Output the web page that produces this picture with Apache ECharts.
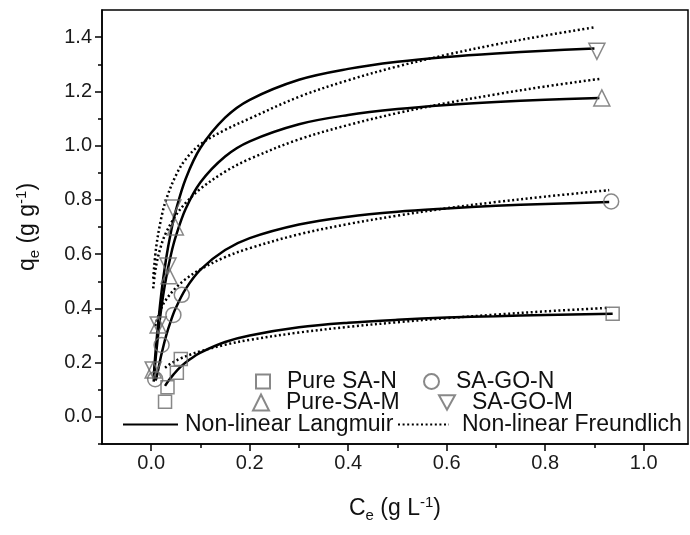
<!DOCTYPE html>
<html>
<head>
<meta charset="utf-8">
<script src="https://cdn.jsdelivr.net/npm/echarts@6/dist/echarts.min.js"></script>
<style>html,body{margin:0;padding:0;background:#fff}#c{width:690px;height:535px}</style>
</head>
<body>
<div id="c"></div>
<script>
// ---- tick labels ----
const xTicks = [0, 0.2, 0.4, 0.6, 0.8, 1.0];
const xMinor = [0.1, 0.3, 0.5, 0.7, 0.9];
const yTicks = [0, 0.2, 0.4, 0.6, 0.8, 1.0, 1.2, 1.4];
const yMinor = [-0.1, 0.1, 0.3, 0.5, 0.7, 0.9, 1.1, 1.3];

// ---- measured points ----
const pureSAN_C = [0.028, 0.033, 0.052, 0.060, 0.937];
const pureSAN_q = [0.056, 0.109, 0.163, 0.213, 0.380];
const sagoN_C = [0.008, 0.021, 0.045, 0.062, 0.934];
const sagoN_q = [0.139, 0.265, 0.376, 0.450, 0.794];
const pureSAM_C = [0.004, 0.014, 0.036, 0.049, 0.915];
const pureSAM_q = [0.173, 0.339, 0.520, 0.700, 1.176];
const sagoM_C = [0.004, 0.014, 0.034, 0.044, 0.905];
const sagoM_q = [0.173, 0.339, 0.556, 0.770, 1.348];

// ---- Langmuir fit curves ----
const langSAN_C = [0.028, 0.035, 0.045, 0.06, 0.08, 0.1, 0.15, 0.2, 0.3, 0.4, 0.5, 0.6, 0.7, 0.8, 0.937];
const langSAN_q = [0.114, 0.133, 0.156, 0.185, 0.214, 0.237, 0.276, 0.300, 0.330, 0.347, 0.358, 0.366, 0.371, 0.376, 0.380];
const langGON_C = [0.008, 0.01, 0.02, 0.03, 0.04, 0.05, 0.07, 0.1, 0.15, 0.2, 0.3, 0.4, 0.5, 0.6, 0.7, 0.8, 0.93];
const langGON_q = [0.135, 0.140, 0.225, 0.298, 0.355, 0.402, 0.472, 0.543, 0.615, 0.659, 0.709, 0.738, 0.756, 0.768, 0.778, 0.785, 0.792];
const langSAM_C = [0.005, 0.01, 0.02, 0.03, 0.04, 0.05, 0.07, 0.1, 0.15, 0.2, 0.3, 0.4, 0.5, 0.6, 0.7, 0.8, 0.91];
const langSAM_q = [0.130, 0.235, 0.395, 0.510, 0.598, 0.666, 0.767, 0.865, 0.960, 1.016, 1.079, 1.113, 1.135, 1.150, 1.161, 1.169, 1.176];
const langGOM_C = [0.005, 0.01, 0.02, 0.03, 0.04, 0.05, 0.07, 0.1, 0.15, 0.2, 0.3, 0.4, 0.5, 0.6, 0.7, 0.8, 0.9];
const langGOM_q = [0.147, 0.266, 0.448, 0.581, 0.682, 0.761, 0.878, 0.992, 1.103, 1.169, 1.243, 1.283, 1.309, 1.327, 1.340, 1.350, 1.358];

// ---- Freundlich fit curves ----
const frSAN_C = [0.028, 0.035, 0.045, 0.06, 0.08, 0.1, 0.15, 0.2, 0.3, 0.4, 0.5, 0.6, 0.7, 0.8, 0.93];
const frSAN_q = [0.181, 0.191, 0.202, 0.216, 0.230, 0.242, 0.266, 0.284, 0.311, 0.332, 0.349, 0.364, 0.377, 0.389, 0.402];
const frGON_C = [0.008, 0.01, 0.02, 0.03, 0.05, 0.07, 0.1, 0.15, 0.2, 0.3, 0.4, 0.5, 0.6, 0.7, 0.8, 0.93];
const frGON_q = [0.335, 0.349, 0.399, 0.432, 0.476, 0.508, 0.544, 0.589, 0.622, 0.673, 0.711, 0.742, 0.769, 0.792, 0.812, 0.836];
const frSAM_C = [0.004, 0.01, 0.02, 0.03, 0.05, 0.07, 0.1, 0.15, 0.2, 0.3, 0.4, 0.5, 0.6, 0.7, 0.8, 0.91];
const frSAM_q = [0.474, 0.558, 0.631, 0.679, 0.743, 0.789, 0.841, 0.904, 0.951, 1.023, 1.076, 1.120, 1.157, 1.189, 1.218, 1.246];
const frGOM_C = [0.004, 0.01, 0.02, 0.03, 0.05, 0.07, 0.1, 0.15, 0.2, 0.3, 0.4, 0.5, 0.6, 0.7, 0.8, 0.9];
const frGOM_q = [0.510, 0.625, 0.730, 0.800, 0.890, 0.950, 1.005, 1.058, 1.100, 1.180, 1.241, 1.292, 1.335, 1.373, 1.406, 1.436];

const zip = (a, b) => a.map((v, i) => [v, b[i]]);
const FONT = 'Liberation Sans, Arial, sans-serif';
const MK = '#6a6a6a';
const DOWN_TRI = 'path://M0,0 L10,0 L5,9 Z';

function lang(C, q) {
  return { type: 'line', name: 'Non-linear Langmuir', data: zip(C, q), symbol: 'none', smooth: 0.35,
    lineStyle: { color: '#000', width: 2.5 }, itemStyle: { color: '#000' }, z: 3, silent: true };
}
function freu(C, q) {
  return { type: 'line', name: 'Non-linear Freundlich', data: zip(C, q), symbol: 'none', smooth: 0.35,
    lineStyle: { color: '#000', width: 2.5, type: [2, 2.6] }, itemStyle: { color: '#000' }, z: 2, silent: true };
}
function pts(name, C, q, symbol, size) {
  return { type: 'scatter', name: name, data: zip(C, q), symbol: symbol, symbolSize: size,
    itemStyle: { color: 'rgba(255,255,255,0)', borderColor: MK, borderWidth: 1.5 }, z: 4, silent: true };
}
const legTxt = { fontSize: 23, fontFamily: FONT, color: '#111' };
function leg(name, left, top, w, h, pad, hideSym) {
  const o = { data: [name], left: left, top: top, itemWidth: w, itemHeight: h, padding: 0, selectedMode: false,
    textStyle: Object.assign({ padding: [0, 0, 0, pad] }, legTxt) };
  if (hideSym) o.itemStyle = { opacity: 0 };
  return o;
}

const chart = echarts.init(document.getElementById('c'), null, { renderer: 'canvas' });
chart.setOption({
  animation: false,
  backgroundColor: '#fff',
  grid: { left: 102, right: 2, top: 10, bottom: 91, show: true, borderColor: '#000', borderWidth: 1.5, backgroundColor: 'transparent' },
  xAxis: [{
    type: 'value', min: -0.1, max: 1.09, position: 'bottom',
    axisLine: { show: true, onZero: false, lineStyle: { color: '#000', width: 1.5 } },
    axisTick: { show: true, length: 7, lineStyle: { color: '#000', width: 1.5 }, customValues: xTicks },
    axisLabel: { customValues: xTicks, formatter: v => v.toFixed(1), fontSize: 20, fontFamily: FONT, color: '#1a1a1a', margin: 9 },
    splitLine: { show: false },
    name: '{t|C}{s|e}{t| (g L}{p|-1}{t|)}', nameLocation: 'middle', nameGap: 50,
    nameTextStyle: { rich: {
      t: { fontSize: 23, fontFamily: FONT, color: '#111' },
      s: { fontSize: 15, fontFamily: FONT, color: '#111', padding: [14, 0, 0, 0] },
      p: { fontSize: 15, fontFamily: FONT, color: '#111', padding: [0, 0, 12, 0] } } }
  }, {
    type: 'value', min: -0.1, max: 1.09, position: 'bottom',
    axisLine: { show: false, onZero: false },
    axisTick: { show: true, length: 4, lineStyle: { color: '#000', width: 1.5 }, customValues: xMinor },
    axisLabel: { show: false }, splitLine: { show: false }
  }],
  yAxis: [{
    type: 'value', min: -0.1, max: 1.5, position: 'left',
    axisLine: { show: true, onZero: false, lineStyle: { color: '#000', width: 1.5 } },
    axisTick: { show: true, length: 7, lineStyle: { color: '#000', width: 1.5 }, customValues: yTicks },
    axisLabel: { customValues: yTicks, formatter: v => v.toFixed(1), fontSize: 20, fontFamily: FONT, color: '#1a1a1a', margin: 10 },
    splitLine: { show: false },
    name: '{t|q}{s|e}{t| (g g}{p|-1}{t|)}', nameLocation: 'middle', nameGap: 60,
    nameTextStyle: { rich: {
      t: { fontSize: 23, fontFamily: FONT, color: '#111' },
      s: { fontSize: 15, fontFamily: FONT, color: '#111', padding: [14, 0, 0, 0] },
      p: { fontSize: 15, fontFamily: FONT, color: '#111', padding: [0, 0, 12, 0] } } }
  }, {
    type: 'value', min: -0.1, max: 1.5, position: 'left',
    axisLine: { show: false, onZero: false },
    axisTick: { show: true, length: 4, lineStyle: { color: '#000', width: 1.5 }, customValues: yMinor },
    axisLabel: { show: false }, splitLine: { show: false }
  }],
  legend: [
    leg('Pure SA-N', 255, 370, 14, 14, 12),
    leg('SA-GO-N', 423, 370, 15, 15, 12),
    leg('Pure-SA-M', 252, 391, 16, 16, 12),
    leg('SA-GO-M', 438, 391, 16, 16, 12),
    leg('Non-linear Langmuir', 122, 413, 55, 14, 2, true),
    leg('Non-linear Freundlich', 397, 413, 51, 14, 8, true)
  ],
  series: [
    lang(langSAN_C, langSAN_q), lang(langGON_C, langGON_q), lang(langSAM_C, langSAM_q), lang(langGOM_C, langGOM_q),
    freu(frSAN_C, frSAN_q), freu(frGON_C, frGON_q), freu(frSAM_C, frSAM_q), freu(frGOM_C, frGOM_q),
    pts('Pure SA-N', pureSAN_C, pureSAN_q, 'rect', 13),
    pts('SA-GO-N', sagoN_C, sagoN_q, 'circle', 15),
    pts('Pure-SA-M', pureSAM_C, pureSAM_q, 'triangle', 16),
    pts('SA-GO-M', sagoM_C, sagoM_q, DOWN_TRI, 16)
  ]
});
</script>
</body>
</html>
